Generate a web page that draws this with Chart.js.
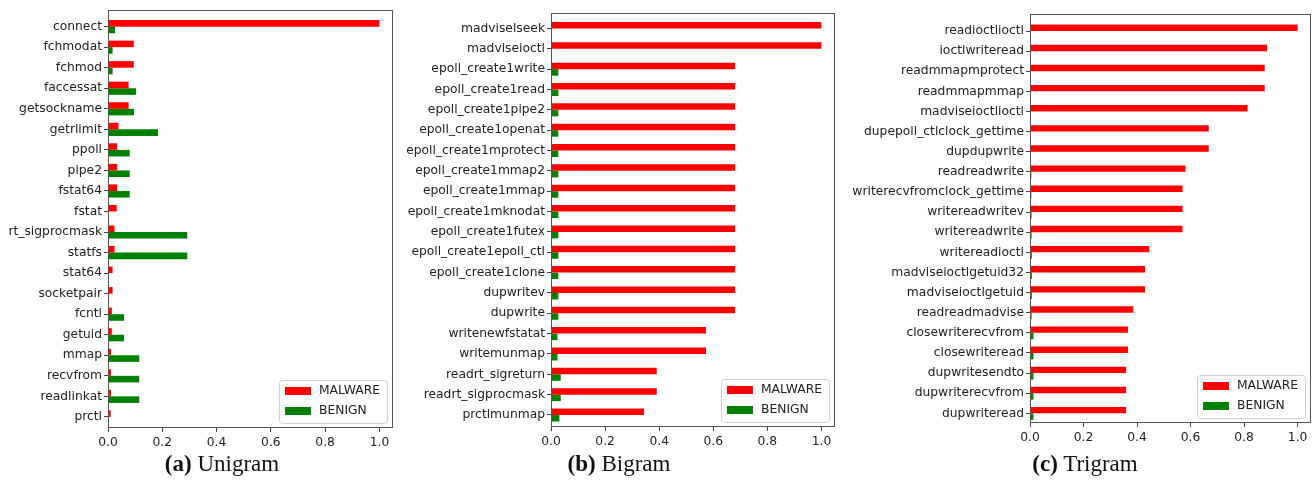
<!DOCTYPE html>
<html>
<head>
<meta charset="utf-8">
<script src="https://cdn.jsdelivr.net/npm/chart.js@4.4.0/dist/chart.umd.min.js"></script>
<style>
    body { margin: 0; background: #fff; width: 1316px; height: 482px; position: relative; overflow: hidden; }
    canvas { position: absolute; top: 0; }
    .caption { position: absolute; top: 451px; width: 240px; text-align: center; font-family: 'Liberation Serif', serif; font-size: 23px; color: #111; }
</style>
</head>
<body>
<canvas id="unigramChart" width="400" height="460" style="left:0px"></canvas>
<canvas id="bigramChart" width="450" height="460" style="left:396px"></canvas>
<canvas id="trigramChart" width="470" height="460" style="left:846px"></canvas>
<div class="caption" style="left:102px"><b>(a)</b> Unigram</div>
<div class="caption" style="left:499px"><b>(b)</b> Bigram</div>
<div class="caption" style="left:965px"><b>(c)</b> Trigram</div>
<script>
const xTicks = [0, 0.2, 0.4, 0.6, 0.8, 1.0];

const unigramLabels = ['connect', 'fchmodat', 'fchmod', 'faccessat', 'getsockname', 'getrlimit', 'ppoll', 'pipe2',
    'fstat64', 'fstat', 'rt_sigprocmask', 'statfs', 'stat64', 'socketpair', 'fcntl', 'getuid', 'mmap', 'recvfrom',
    'readlinkat', 'prctl'];
const unigramMalware = [1.0, 0.095, 0.095, 0.076, 0.076, 0.039, 0.034, 0.034, 0.034, 0.032,
    0.024, 0.024, 0.017, 0.017, 0.014, 0.014, 0.011, 0.011, 0.011, 0.010];
const unigramBenign = [0.026, 0.017, 0.017, 0.103, 0.096, 0.184, 0.080, 0.080, 0.080, 0.003,
    0.292, 0.292, 0.0, 0.0, 0.059, 0.059, 0.115, 0.115, 0.115, 0.0];

const bigramLabels = ['madviselseek', 'madviseioctl', 'epoll_create1write', 'epoll_create1read', 'epoll_create1pipe2',
    'epoll_create1openat', 'epoll_create1mprotect', 'epoll_create1mmap2', 'epoll_create1mmap', 'epoll_create1mknodat',
    'epoll_create1futex', 'epoll_create1epoll_ctl', 'epoll_create1clone', 'dupwritev', 'dupwrite', 'writenewfstatat',
    'writemunmap', 'readrt_sigreturn', 'readrt_sigprocmask', 'prctlmunmap'];
const bigramMalware = [1.0, 1.0, 0.681, 0.681, 0.681, 0.681, 0.681, 0.681, 0.681, 0.681,
    0.681, 0.681, 0.681, 0.681, 0.681, 0.573, 0.573, 0.391, 0.391, 0.344];
const bigramBenign = [0.002, 0.002, 0.027, 0.027, 0.027, 0.027, 0.027, 0.027, 0.027, 0.027,
    0.027, 0.027, 0.027, 0.027, 0.027, 0.024, 0.024, 0.036, 0.036, 0.031];

const trigramLabels = ['readioctlioctl', 'ioctlwriteread', 'readmmapmprotect', 'readmmapmmap', 'madviseioctlioctl',
    'dupepoll_ctlclock_gettime', 'dupdupwrite', 'readreadwrite', 'writerecvfromclock_gettime', 'writereadwritev',
    'writereadwrite', 'writereadioctl', 'madviseioctlgetuid32', 'madviseioctlgetuid', 'readreadmadvise',
    'closewriterecvfrom', 'closewriteread', 'dupwritesendto', 'dupwriterecvfrom', 'dupwriteread'];
const trigramMalware = [1.0, 0.886, 0.877, 0.877, 0.813, 0.668, 0.668, 0.581, 0.570, 0.570,
    0.570, 0.446, 0.430, 0.430, 0.386, 0.366, 0.366, 0.359, 0.359, 0.359];
const trigramBenign = [0.001, 0.001, 0.001, 0.001, 0.004, 0.002, 0.002, 0.005, 0.005, 0.006,
    0.006, 0.007, 0.007, 0.007, 0.006, 0.013, 0.013, 0.013, 0.013, 0.013];

const tickFont = { family: "'DejaVu Sans', sans-serif", size: 12.3 };
const tickColor = '#222';

// axes box + legend in the lower right corner, like the matplotlib defaults
const frameAndLegend = {
    id: 'frameAndLegend',
    afterDatasetsDraw(chart) {
        const { ctx, chartArea: { left, top, right, bottom } } = chart;
        ctx.save();
        ctx.strokeStyle = '#555';
        ctx.lineWidth = 1;
        ctx.strokeRect(Math.round(left) + 0.5, Math.round(top) + 0.5,
            Math.round(right - left) - 1, Math.round(bottom - top) - 1);

        const w = 108, h = 43;
        const x0 = Math.round(right) - 6 - w;
        const y0 = Math.round(bottom) - 5 - h;
        ctx.beginPath();
        ctx.roundRect(x0 + 0.5, y0 + 0.5, w, h, 3);
        ctx.fillStyle = 'rgba(255,255,255,0.8)';
        ctx.fill();
        ctx.strokeStyle = '#d0d0d0';
        ctx.stroke();

        ctx.font = `${tickFont.size}px ${tickFont.family}`;
        ctx.textBaseline = 'middle';
        chart.data.datasets.forEach((ds, k) => {
            const cy = y0 + 11 + k * 20;
            ctx.fillStyle = ds.backgroundColor;
            ctx.fillRect(x0 + 6, cy - 4, 26, 8);
            ctx.fillStyle = tickColor;
            ctx.fillText(ds.label, x0 + 40, cy);
        });
        ctx.restore();
    }
};

const buildBarChart = (canvasId, labels, malware, benign, box) => {
    const toPoints = values => values.map((v, i) => ({ x: v, y: i }));
    return new Chart(document.getElementById(canvasId), {
        type: 'bar',
        data: {
            datasets: [
                { label: 'MALWARE', data: toPoints(malware), backgroundColor: '#ff0000', categoryPercentage: 0.64, barPercentage: 1.0 },
                { label: 'BENIGN', data: toPoints(benign), backgroundColor: '#008000', categoryPercentage: 0.64, barPercentage: 1.0 }
            ]
        },
        options: {
            indexAxis: 'y',
            responsive: false,
            animation: false,
            layout: { padding: { top: box.top, right: box.right, left: 0, bottom: 0 } },
            scales: {
                x: {
                    type: 'linear',
                    bounds: 'data',
                    min: 0,
                    max: 1.05,
                    afterFit: (scale) => { scale.height = box.xAxisHeight; },
                    afterBuildTicks: (scale) => { scale.ticks = xTicks.map(v => ({ value: v })); },
                    ticks: { callback: v => v.toFixed(1), font: tickFont, color: tickColor, padding: 3 },
                    grid: { drawOnChartArea: false, tickLength: 4, color: '#444' },
                    border: { display: false }
                },
                y: {
                    type: 'linear',
                    bounds: 'data',
                    offset: false,
                    reverse: true,
                    min: box.yMin,
                    max: box.yMax,
                    afterFit: (scale) => { scale.width = box.yAxisWidth; },
                    afterBuildTicks: (scale) => { scale.ticks = labels.map((_, i) => ({ value: i })); },
                    ticks: { autoSkip: false, callback: v => labels[v], font: tickFont, color: tickColor, padding: 2 },
                    grid: { drawOnChartArea: false, offset: false, tickLength: 4, color: '#444' },
                    border: { display: false }
                }
            },
            plugins: {
                legend: { display: false },
                tooltip: { enabled: false }
            }
        },
        plugins: [frameAndLegend]
    });
};

buildBarChart('unigramChart', unigramLabels, unigramMalware, unigramBenign,
    { top: 10, right: 7, yAxisWidth: 108, xAxisHeight: 32, yMin: -0.81, yMax: 19.54 });
buildBarChart('bigramChart', bigramLabels, bigramMalware, bigramBenign,
    { top: 13, right: 11, yAxisWidth: 155, xAxisHeight: 33, yMin: -0.76, yMax: 19.59 });
buildBarChart('trigramChart', trigramLabels, trigramMalware, trigramBenign,
    { top: 14, right: 5, yAxisWidth: 184, xAxisHeight: 37, yMin: -0.845, yMax: 19.48 });
</script>
</body>
</html>
